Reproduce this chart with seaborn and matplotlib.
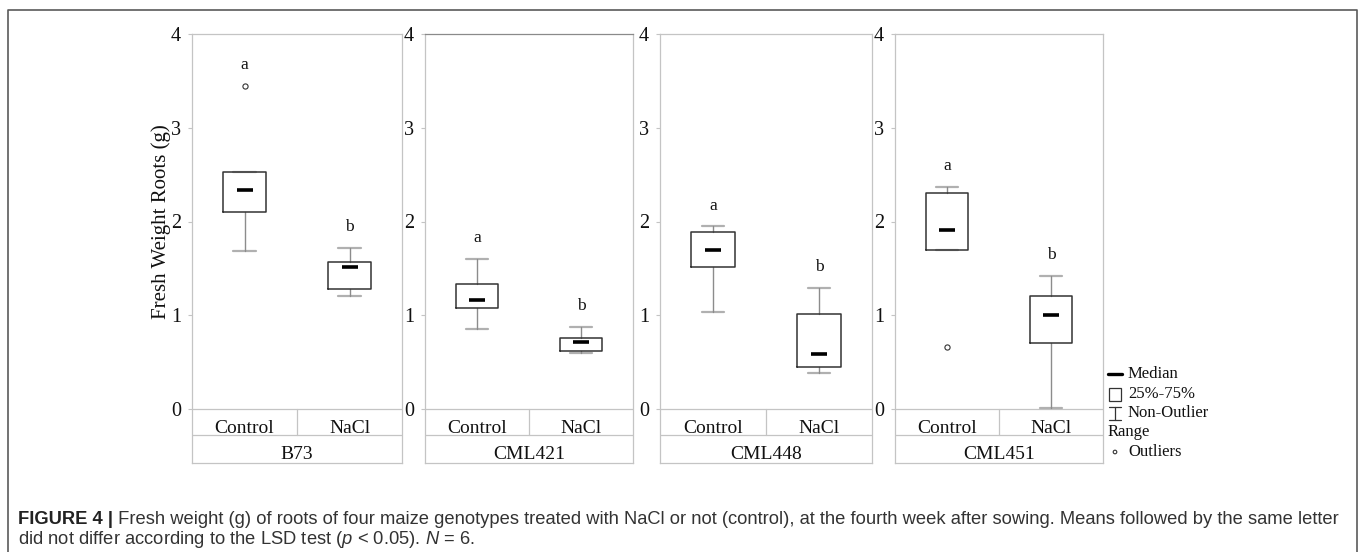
import matplotlib
matplotlib.use("Agg")
import matplotlib.pyplot as plt
from matplotlib.patches import Rectangle, Ellipse
import seaborn as sns
import pandas as pd

# ---------------- data ----------------
genotypes = ["B73", "CML421", "CML448", "CML451"]
treatments = ["Control", "NaCl"]
q1 = [2.10, 1.28, 1.08, 0.62, 1.52, 0.45, 1.70, 0.70]
medians = [2.34, 1.52, 1.16, 0.71, 1.70, 0.59, 1.91, 1.00]
q3 = [2.53, 1.57, 1.33, 0.76, 1.89, 1.01, 2.30, 1.21]
whisker_low = [1.69, 1.21, 0.85, 0.60, 1.03, 0.38, 1.70, 0.01]
whisker_high = [2.53, 1.72, 1.60, 0.88, 1.95, 1.29, 2.37, 1.42]
outliers = [[3.45], [], [], [], [], [], [0.66], []]
letters = ["a", "b", "a", "b", "a", "b", "a", "b"]
y_ticks = [0, 1, 2, 3, 4]
y_label = "Fresh Weight Roots (g)"
legend_items = ["Median", "25%-75%", "Non-Outlier", "Range", "Outliers"]
caption_bold = "FIGURE 4 |"
caption_line1 = (" Fresh weight (g) of roots of four maize genotypes treated with NaCl or not "
                 "(control), at the fourth week after sowing. Means followed by the same letter")
caption_line2 = r"did not differ according to the LSD test ($\mathit{p}$ < 0.05). $\mathit{N}$ = 6."

rows = []
for gi, g in enumerate(genotypes):
    for ti, t in enumerate(treatments):
        k = gi * 2 + ti
        rows.append(dict(genotype=g, treatment=t, pos=ti, q1=q1[k], med=medians[k], q3=q3[k],
                         lo=whisker_low[k], hi=whisker_high[k], fl=outliers[k], letter=letters[k]))
df = pd.DataFrame(rows)

# ---------------- style ----------------
sns.set_style("white")
plt.rcParams["font.family"] = ["Liberation Serif", "DejaVu Serif"]
plt.rcParams["mathtext.fontset"] = "custom"
plt.rcParams["mathtext.it"] = "Liberation Sans:italic"
plt.rcParams["mathtext.rm"] = "Liberation Sans"

W, H = 1360, 552
fig = plt.figure(figsize=(W / 100, H / 100), dpi=100)

def fx(x):
    return x / W

def fy(y):
    return 1 - y / H

frame_c = "#c4c4c4"
box_c = "#333333"
whisk_c = "#8c8c8c"
cap_c = "#b0b0b0"
txt_c = "#111111"

panel_px = [(192, 402), (425, 633), (660, 872), (895, 1103)]
top_px, bot_px = 34, 463
ymin, ymax = -0.576, 4.0
cat_line = -0.277

for gi, g in enumerate(genotypes):
    l, r = panel_px[gi]
    ax = fig.add_axes([fx(l), fy(bot_px), (r - l) / W, (bot_px - top_px) / H])
    sub = df[df.genotype == g].reset_index(drop=True)
    stats = []
    for _, row in sub.iterrows():
        stats.append(dict(med=row.med, q1=row.q1, q3=row.q3, whislo=row.lo, whishi=row.hi,
                          fliers=[], label=row.treatment))
    ax.bxp(stats, positions=sub.pos.tolist(), widths=0.41, capwidths=0.21,
           showfliers=False,
           boxprops=dict(color=box_c, linewidth=1.1, zorder=3),
           whiskerprops=dict(color=whisk_c, linewidth=1.0, zorder=2),
           capprops=dict(color=cap_c, linewidth=1.6, zorder=1.5),
           medianprops=dict(linewidth=0))
    sns.scatterplot(data=sub, x="pos", y="med", marker="_", s=125, linewidth=2.6,
                    color="black", ax=ax, legend=False, zorder=4)
    fl = sub[["pos", "fl"]].explode("fl").dropna()
    if len(fl):
        fl = fl.astype({"fl": float})
        sns.scatterplot(data=fl, x="pos", y="fl", marker="o", s=14, facecolor="white",
                        edgecolor="#333333", linewidth=0.8, ax=ax, legend=False, zorder=4)
    for _, row in sub.iterrows():
        top = max([row.hi] + list(row.fl))
        ax.text(row.pos, top + 0.22, row.letter, ha="center", va="center",
                fontsize=12.5, color=txt_c)
    ax.set_xlim(-0.5, 1.5)
    ax.set_ylim(ymin, ymax)
    ax.set_yticks(y_ticks)
    ax.set_yticklabels([str(t) for t in y_ticks], fontsize=14.5)
    ax.set_xticks([])
    ax.set_xlabel("")
    ax.set_ylabel("")
    ax.tick_params(axis="y", length=3, width=0.8, color=frame_c, pad=5, left=True, labelcolor=txt_c)
    for s in ax.spines.values():
        s.set_color(frame_c)
        s.set_linewidth(0.9)
    if gi == 1:
        ax.spines["top"].set_color("#8a8a8a")
    # category table
    ax.axhline(0, color=frame_c, lw=0.9, zorder=1)
    ax.axhline(cat_line, color=frame_c, lw=0.9, zorder=1)
    ax.plot([0.5, 0.5], [cat_line, 0], color=frame_c, lw=0.9, zorder=1)
    for ti, t in enumerate(treatments):
        ax.text(ti, -0.255, t, ha="center", va="baseline", fontsize=14, color=txt_c)
    ax.text(0.5, -0.535, g, ha="center", va="baseline", fontsize=14, color=txt_c)

fig.text(fx(161), fy(222), y_label, rotation=90, ha="center", va="center",
         fontsize=15, color=txt_c)

# ---------------- legend ----------------
lax = fig.add_axes([0, 0, 1, 1], zorder=5)
lax.set_xlim(0, W)
lax.set_ylim(H, 0)
lax.axis("off")
lax.plot([1108, 1122], [374, 374], color="black", lw=2.4)
lax.add_patch(Rectangle((1109, 388), 12, 13, fill=False, edgecolor="#333333", lw=0.9))
lax.plot([1109, 1121], [407, 407], color="#333333", lw=0.9)
lax.plot([1109, 1121], [420, 420], color="#333333", lw=0.9)
lax.plot([1115, 1115], [407, 420], color="#333333", lw=0.9)
lax.add_patch(Ellipse((1115, 452), 3.6, 3.6, fill=False, edgecolor="#333333", lw=0.8))
leg_xy = [(1128, 374), (1128, 394), (1128, 413), (1108, 432), (1128, 452)]
for (x, y), t in zip(leg_xy, legend_items):
    lax.text(x, y, t, ha="left", va="center", fontsize=12, color=txt_c)

# ---------------- outer frame ----------------
lax.plot([8, 8, 1357, 1357], [H, 10, 10, H], color="#5a5a5a", lw=1.2, clip_on=False)

# ---------------- caption ----------------
t1 = lax.text(18, 519, caption_bold, ha="left", va="center", fontsize=13.2,
              family="Liberation Sans", weight="bold", color="#222222")
fig.canvas.draw()
bb = t1.get_window_extent(renderer=fig.canvas.get_renderer())
lax.text(bb.x1, 519, caption_line1, ha="left", va="center", fontsize=13.2,
         family="Liberation Sans", color="#333333")
lax.text(18, 540, caption_line2, ha="left", va="center", fontsize=13.2,
         family="Liberation Sans", color="#333333")

fig.savefig("out.png", dpi=100)
